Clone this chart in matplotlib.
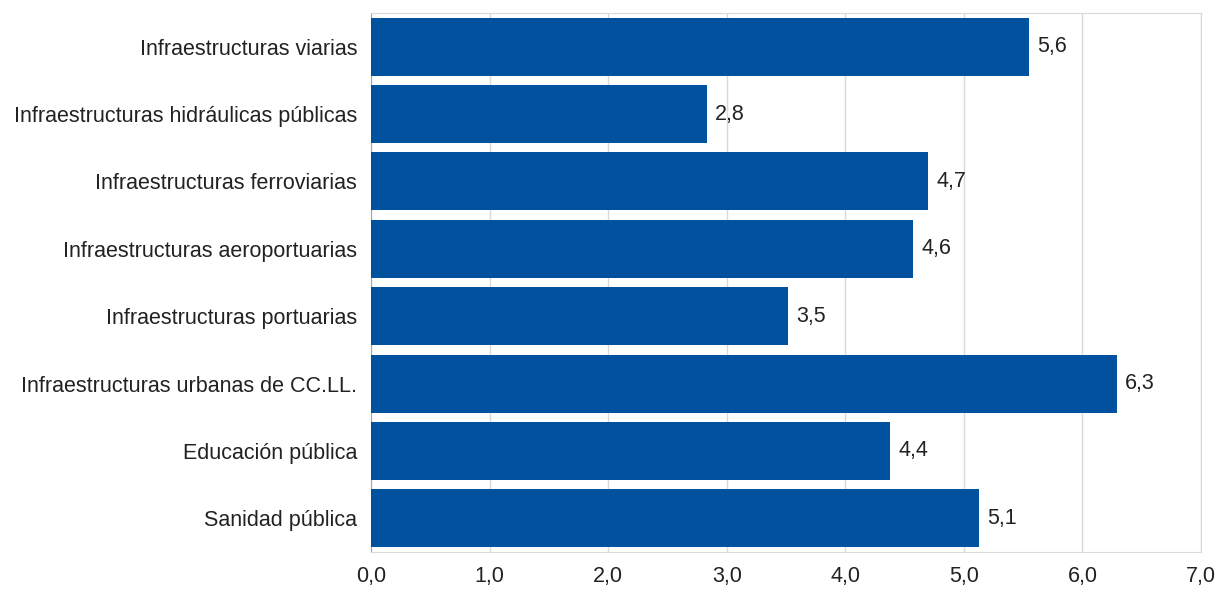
import matplotlib
matplotlib.use('Agg')
from matplotlib import pyplot as plt
from matplotlib.ticker import FuncFormatter
import numpy as np

plt.rcParams['font.family'] = ['Liberation Sans', 'DejaVu Sans']

categorias = [
    'Infraestructuras viarias',
    'Infraestructuras hidráulicas públicas',
    'Infraestructuras ferroviarias',
    'Infraestructuras aeroportuarias',
    'Infraestructuras portuarias',
    'Infraestructuras urbanas de CC.LL.',
    'Educación pública',
    'Sanidad pública',
]
valores = [5.55, 2.83, 4.70, 4.57, 3.52, 6.29, 4.38, 5.13]
etiquetas = ['5,6', '2,8', '4,7', '4,6', '3,5', '6,3', '4,4', '5,1']

azul = '#00529f'

fig = plt.figure(figsize=(12.25, 5.89), dpi=100)
ax = fig.add_axes([0.3029, 0.0628, 0.6775, 0.9152])

y = np.arange(len(categorias))
barras = ax.barh(y, valores, height=0.86, color=azul, zorder=3)
for b, txt in zip(barras, etiquetas):
    ax.text(b.get_width() + 0.07, b.get_y() + b.get_height() / 2, txt,
            va='center', ha='left', fontsize=15.5, color='#222222')

ax.set_xlim(0, 7)
ax.set_ylim(len(categorias) - 0.5, -0.5)
ax.set_xticks(np.arange(0, 8, 1))
ax.xaxis.set_major_formatter(FuncFormatter(lambda v, p: f'{v:.1f}'.replace('.', ',')))
ax.set_yticks(y)
ax.set_yticklabels(categorias)
ax.tick_params(axis='y', length=0, pad=10, labelsize=15.5, labelcolor='#222222')
ax.tick_params(axis='x', length=0, pad=10, labelsize=15.5, labelcolor='#222222')

ax.grid(axis='x', color='#d9d9d9', linewidth=1, zorder=0)
for s in ['top', 'right', 'bottom']:
    ax.spines[s].set_color('#d9d9d9')
ax.spines['left'].set_color('#a6a6a6')

fig.savefig('out.png', dpi=100)
